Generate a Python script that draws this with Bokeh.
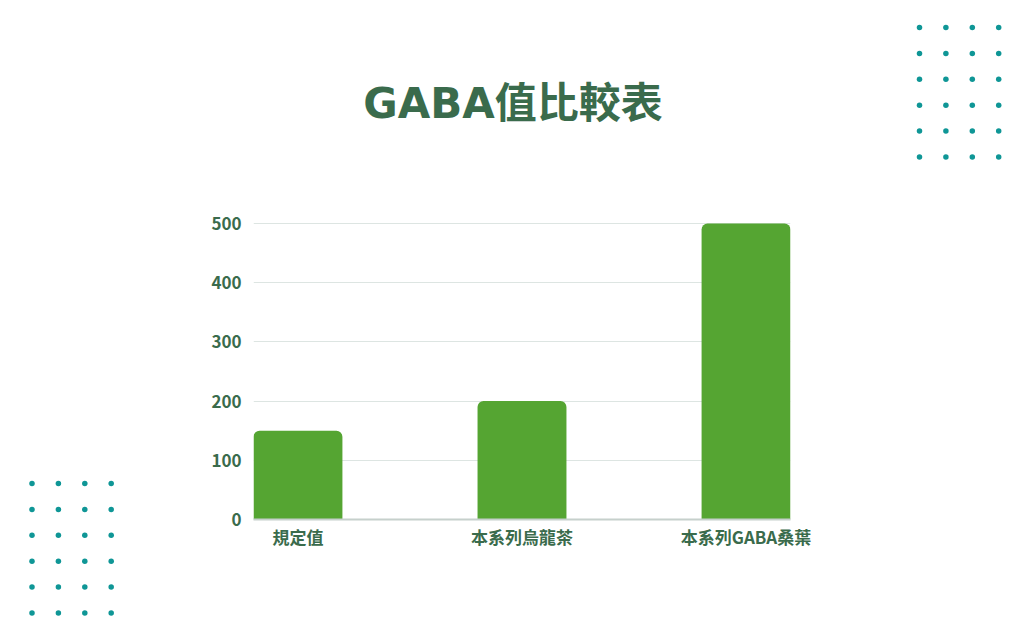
from bokeh.plotting import figure
from bokeh.layouts import row
from bokeh.models import Range1d, FixedTicker, Label
from bokeh.embed import file_html
from bokeh.resources import INLINE

# ---- data ----
categories = ["規定值", "本系列烏龍茶", "本系列GABA桑葉"]
gaba_values = [150, 200, 500]
y_ticks = [0, 100, 200, 300, 400, 500]
title_text = "GABA值比較表"

# ---- style ----
BAR = "#55a532"
TXT = "#3a6b4c"
GRID = "#dde5e2"
AXIS = "#c6d0cc"
DOT = "#0f9696"
FONT = "Noto Sans CJK TC"
TITLE_FONT = "DejaVu Sans, Noto Sans CJK TC"

H = 624


def no_align(f):
    if "frame_align" in f.properties():
        f.frame_align = False
    return f


def dot_fig(width, page_left, dx0, dy0):
    f = figure(width=width, height=H, output_backend="svg", toolbar_location=None,
               x_range=Range1d(page_left, page_left + width), y_range=Range1d(H, 0),
               x_axis_type=None, y_axis_type=None, min_border=0)
    f.outline_line_color = None
    f.background_fill_color = "white"
    f.border_fill_color = "white"
    xs, ys = [], []
    for j in range(6):
        for i in range(4):
            xs.append(dx0 + i * 26.4)
            ys.append(dy0 + j * 25.9)
    f.scatter(xs, ys, size=5.5, color=DOT, line_color=None)
    return no_align(f)


# left decorative dots (page x 0..196)
left = dot_fig(196, 0, 31.5, 483)
# right decorative dots (page x 872..1008)
right = dot_fig(136, 872, 919, 27)

# ---- main chart (page x 196..872) ----
px_per_cat = 224.25
bar_w = 89 / px_per_cat
half = bar_w / 2
y_per_px = 500 / (519 - 223)

p = figure(width=676, height=H, output_backend="svg", toolbar_location=None,
           x_range=Range1d(-half, len(categories) - 1 + half),
           y_range=Range1d(0, 519 * y_per_px),
           min_border_left=57, min_border_right=82, min_border_top=0, min_border_bottom=105)
no_align(p)
p.outline_line_color = None
p.background_fill_color = "white"
p.border_fill_color = "white"

xs = list(range(len(categories)))
p.vbar(x=xs, top=gaba_values, width=bar_w, bottom=0, color=BAR, line_color=None,
       border_radius=(6, 6, 0, 0))

# axes
p.xaxis.ticker = FixedTicker(ticks=xs)
p.xaxis.major_label_overrides = {i: c for i, c in enumerate(categories)}
p.yaxis.ticker = FixedTicker(ticks=y_ticks)
for ax in (p.xaxis, p.yaxis):
    ax.major_tick_line_color = None
    ax.minor_tick_line_color = None
    ax.major_label_text_font = FONT
    ax.major_label_text_font_style = "bold"
    ax.major_label_text_color = TXT
    ax.major_label_text_font_size = "17px"
p.yaxis.axis_line_color = None
p.yaxis.major_label_standoff = 6
p.xaxis.axis_line_color = AXIS
p.xaxis.axis_line_width = 2
p.xaxis.major_label_standoff = -2

p.xgrid.grid_line_color = None
p.ygrid.grid_line_color = GRID
p.ygrid.grid_line_width = 1

# title
p.add_layout(Label(x=1, y=(519 - 103) * y_per_px, text=title_text, x_offset=-9,
                   text_align="center", text_baseline="alphabetic",
                   text_font=TITLE_FONT, text_font_style="bold", text_font_size="42px",
                   text_color=TXT))

layout = row(left, p, right)
open("out.html", "w").write(file_html(layout, INLINE))
